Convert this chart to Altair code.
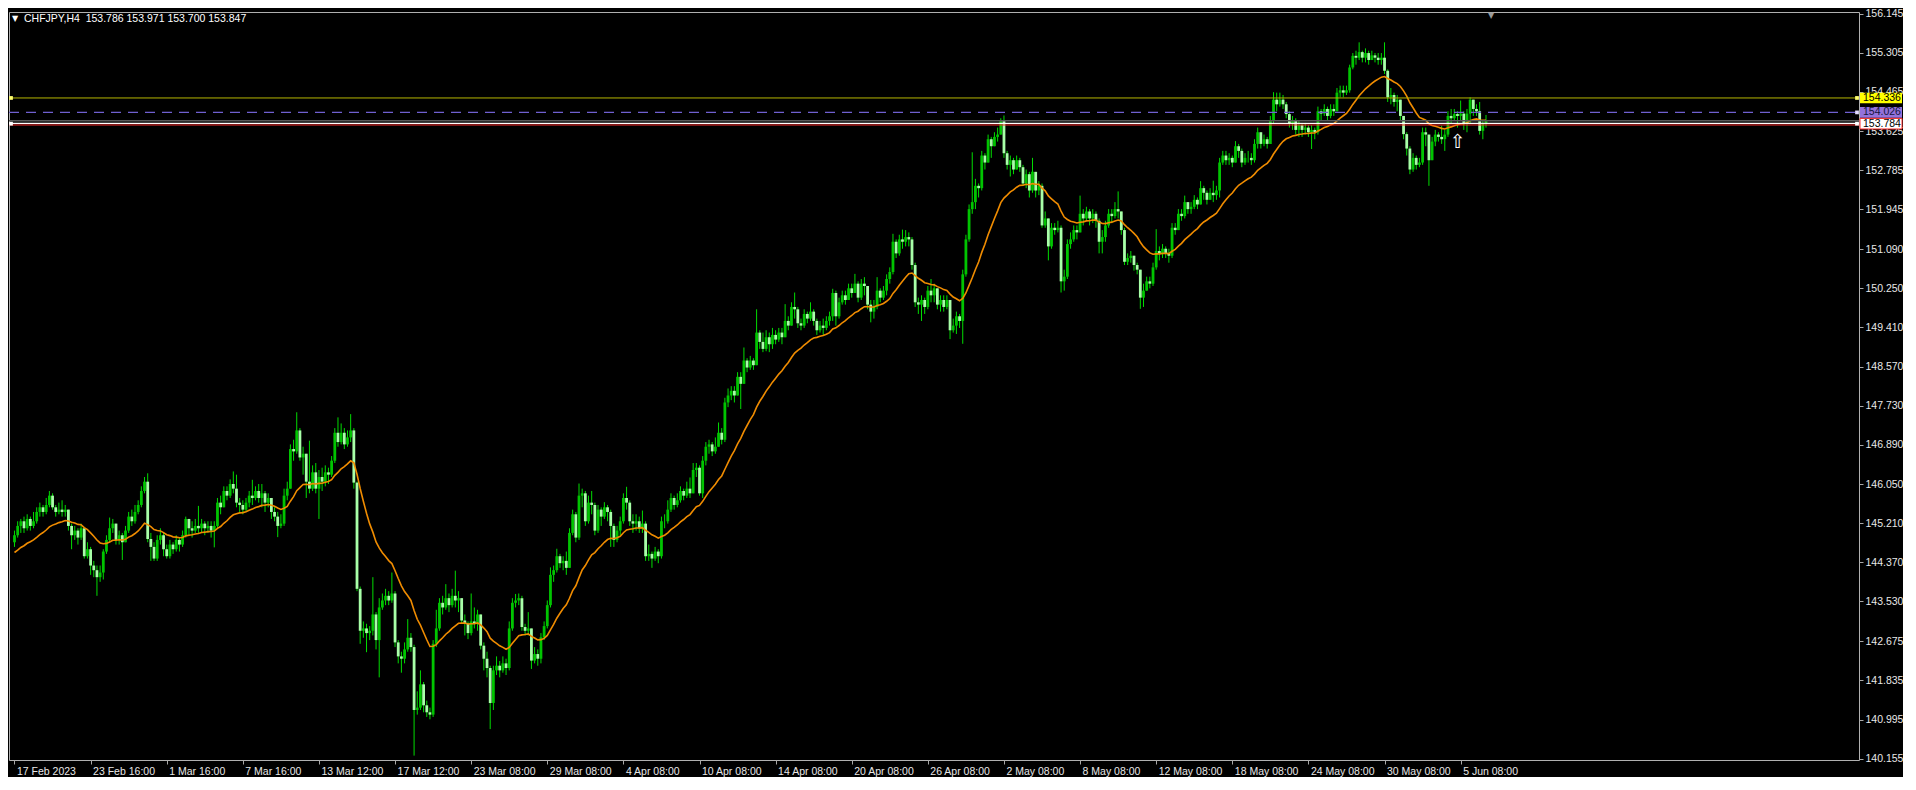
import altair as alt
import pandas as pd

# ---------------- data (CHFJPY H4) ----------------
closes = [
    144.95,145.15,145.25,145.10,145.30,145.15,145.25,145.45,145.55,145.45,
    145.60,145.80,145.55,145.45,145.50,145.45,145.50,145.15,144.95,145.05,
    144.90,145.10,144.50,144.65,144.30,144.20,144.05,144.15,144.60,144.85,
    145.10,145.20,144.85,144.95,144.80,145.05,145.35,145.25,145.45,145.60,
    145.90,146.10,144.87,144.70,144.45,144.85,144.95,144.65,144.50,144.75,
    144.65,144.85,144.75,144.95,145.30,145.10,145.05,145.15,145.10,145.20,
    145.10,145.15,145.05,145.15,145.65,145.55,145.90,145.80,146.05,145.95,
    145.65,145.60,145.50,145.65,145.80,145.75,145.90,145.75,145.85,145.65,
    145.75,145.45,145.35,145.15,145.20,145.80,145.95,146.80,146.75,147.20,
    146.62,146.70,146.10,145.95,146.30,145.95,146.20,146.10,146.30,146.25,
    146.55,147.15,146.95,147.15,146.90,147.05,147.20,146.08,143.80,142.90,
    142.95,142.85,142.90,143.25,142.70,143.40,143.55,143.65,143.55,143.70,
    142.65,142.35,142.30,142.50,142.75,142.55,141.20,141.25,141.75,141.30,
    141.15,141.10,142.62,142.95,143.50,143.40,143.60,143.45,143.65,143.55,
    143.60,143.12,143.05,142.85,143.10,143.05,143.25,142.58,142.30,142.10,
    141.35,142.05,142.15,142.05,142.20,142.10,142.95,143.50,143.55,143.60,
    142.98,142.90,142.95,142.26,142.40,142.30,142.76,143.00,143.45,144.10,
    144.20,144.50,144.35,144.40,144.25,145.00,145.40,144.90,145.80,145.85,
    145.25,145.65,145.60,145.05,145.50,145.35,145.55,145.45,145.15,144.85,
    145.05,145.25,145.75,145.65,145.25,145.20,145.25,145.10,145.20,144.50,
    144.55,144.45,144.60,144.50,145.25,145.25,145.50,145.75,145.60,145.70,
    145.90,145.80,145.95,145.85,146.35,146.40,145.85,146.55,146.85,146.90,
    146.75,146.85,147.15,147.00,147.80,147.95,148.05,147.95,148.35,148.20,
    148.70,148.55,148.70,148.60,149.30,149.10,148.95,149.20,149.05,149.25,
    149.15,149.30,149.20,149.55,149.45,149.85,149.80,149.50,149.45,149.70,
    149.60,149.75,149.55,149.35,149.45,149.40,149.55,149.65,150.15,149.65,
    149.95,150.10,150.00,150.25,150.15,150.35,150.05,150.35,150.30,149.90,
    149.75,149.85,150.20,150.05,150.20,150.45,150.60,151.25,151.00,151.30,
    151.25,151.35,151.30,150.75,149.95,149.90,150.00,149.85,150.20,150.10,
    150.25,149.90,150.00,149.85,150.00,149.35,149.45,149.65,149.55,150.55,
    151.30,151.95,152.10,152.45,152.40,153.10,152.95,153.45,153.30,153.50,
    153.55,153.85,153.15,152.90,153.00,152.80,153.00,152.85,152.50,152.70,
    152.35,152.75,152.35,152.45,151.60,151.75,151.15,151.55,151.50,151.55,
    150.40,150.50,151.20,151.30,151.50,151.45,151.85,151.75,151.90,151.75,
    151.85,151.70,151.25,151.35,151.60,151.85,151.80,151.95,151.90,151.50,
    150.82,150.90,150.95,150.75,150.65,150.05,150.20,150.40,150.35,150.70,
    151.05,151.00,151.10,151.00,150.95,151.55,151.50,151.85,151.80,152.10,
    151.95,152.00,152.15,152.05,152.40,152.30,152.15,152.30,152.25,152.35,
    152.95,153.10,153.00,153.05,152.95,153.30,153.20,152.95,153.05,153.05,
    153.00,153.35,153.60,153.35,153.45,153.35,153.85,154.30,154.20,154.30,
    154.20,153.99,153.78,153.85,153.65,153.75,153.65,153.70,153.60,153.65,
    153.60,154.05,154.00,154.10,153.95,154.10,154.05,154.45,154.50,154.45,
    154.50,154.99,155.24,155.20,155.32,155.20,155.30,155.15,155.25,155.20,
    155.15,155.20,154.92,154.35,154.40,154.25,154.30,153.95,153.56,153.25,
    152.80,153.05,152.90,152.95,153.60,153.55,153.00,153.40,153.55,153.50,
    153.45,153.55,153.95,153.90,153.99,153.95,154.00,153.80,154.00,154.30,
    154.10,154.05,153.63,153.786,153.847,
]
highs = [
    145.05,145.25,145.30,145.35,145.40,145.35,145.45,145.55,145.65,145.60,
    145.75,145.90,145.85,145.60,145.65,145.70,145.60,145.50,145.20,145.15,
    145.10,145.20,145.10,144.80,144.70,144.40,144.30,144.30,144.65,144.95,
    145.33,145.30,145.20,145.05,145.00,145.15,145.45,145.50,145.60,145.70,
    146.00,146.20,146.28,145.00,144.80,144.95,145.10,145.00,144.75,144.85,
    144.80,144.95,144.90,145.05,145.35,145.30,145.25,145.30,145.58,145.30,
    145.25,145.25,145.25,145.25,145.75,145.80,146.00,146.00,146.15,146.32,
    146.25,145.75,145.70,145.75,145.90,146.14,146.00,146.05,146.05,145.90,
    145.85,145.75,145.55,145.45,145.40,145.95,146.10,146.90,147.00,147.59,
    147.25,146.85,146.70,146.98,146.45,146.50,146.35,146.40,146.45,146.40,
    146.65,147.25,147.48,147.35,147.25,147.20,147.55,147.25,146.10,143.85,
    143.10,143.05,143.00,144.05,143.30,143.60,143.70,143.80,143.75,144.15,
    143.75,142.70,142.45,142.65,143.15,142.85,142.60,141.60,142.05,141.80,
    141.40,141.25,142.70,143.35,143.60,143.65,143.90,143.70,143.80,144.19,
    143.75,143.55,143.25,143.10,143.70,143.40,143.35,143.25,142.65,142.45,
    142.15,142.15,142.35,142.25,142.35,142.30,143.10,143.60,143.69,143.70,
    143.65,143.05,143.30,142.90,142.55,142.50,142.85,143.10,143.55,144.26,
    144.30,144.66,144.55,144.50,144.60,145.10,145.50,145.45,146.06,145.95,
    145.90,145.80,145.90,145.65,145.60,145.55,145.66,145.60,145.50,145.20,
    145.15,145.35,145.85,145.99,145.70,145.40,145.40,145.35,145.48,145.25,
    144.75,144.60,144.70,144.65,145.35,145.40,145.70,145.85,145.80,145.85,
    146.00,145.95,146.10,146.19,146.50,146.50,146.45,146.65,146.95,147.00,
    146.95,147.05,147.37,147.25,147.90,148.10,148.15,148.15,148.45,148.45,
    148.98,148.75,148.80,148.75,149.80,149.35,149.30,149.35,149.30,149.40,
    149.35,149.40,149.40,149.91,149.65,149.95,150.16,149.85,149.60,149.80,
    149.75,149.95,149.80,149.60,149.55,149.60,149.65,149.75,150.24,150.20,
    150.05,150.20,150.20,150.35,150.35,150.56,150.40,150.45,150.49,150.30,
    150.00,150.00,150.49,150.25,150.30,150.55,150.70,151.42,151.30,151.40,
    151.51,151.50,151.45,151.35,150.80,150.05,150.10,150.05,150.30,150.45,
    150.35,150.25,150.10,150.10,150.10,150.00,149.60,149.75,149.70,150.65,
    151.40,152.05,153.17,152.60,152.50,153.20,153.15,153.55,153.50,153.60,
    153.70,153.90,153.96,153.20,153.10,153.05,153.10,153.05,152.90,152.80,
    152.75,153.05,152.75,152.55,152.50,151.90,151.75,151.65,151.65,151.70,
    151.60,150.65,151.30,151.45,151.60,151.60,152.24,151.95,152.00,151.95,
    151.95,151.90,151.75,151.50,151.70,151.95,151.95,152.10,152.33,151.90,
    151.55,151.00,151.05,150.95,150.80,150.65,150.35,150.50,150.50,150.80,
    151.52,151.15,151.20,151.15,151.10,151.65,151.65,151.95,151.95,152.24,
    152.10,152.10,152.25,152.20,152.55,152.45,152.35,152.40,152.56,152.45,
    153.05,153.20,153.20,153.15,153.10,153.41,153.35,153.25,153.15,153.20,
    153.15,153.45,153.70,153.60,153.55,153.50,153.95,154.46,154.45,154.45,
    154.40,154.25,154.05,153.95,153.90,153.85,153.80,153.80,153.75,153.75,
    153.70,154.15,154.10,154.20,154.15,154.20,154.20,154.55,154.60,154.60,
    154.60,155.05,155.30,155.35,155.53,155.35,155.40,155.35,155.35,155.30,
    155.30,155.30,155.53,154.95,154.55,154.45,154.40,154.30,153.95,153.60,
    153.30,153.15,153.10,153.05,153.70,153.70,153.55,153.50,153.65,153.60,
    153.74,153.65,154.05,154.10,154.10,154.05,154.28,154.05,154.10,154.35,
    154.30,154.20,154.25,153.85,153.971,
]
lows = [
    144.70,144.90,145.00,145.00,145.05,145.05,145.10,145.20,145.35,145.35,
    145.40,145.55,145.50,145.35,145.40,145.35,145.35,145.05,144.65,144.85,
    144.75,144.85,144.45,144.45,144.10,144.05,143.65,143.95,144.00,144.55,
    144.80,145.00,144.75,144.75,144.42,144.80,145.00,145.15,145.20,145.40,
    145.55,145.85,144.80,144.40,144.40,144.40,144.75,144.50,144.45,144.45,
    144.55,144.60,144.60,144.70,144.90,144.95,144.90,145.00,145.00,145.00,
    144.95,145.00,144.90,144.69,145.10,145.40,145.55,145.70,145.75,145.85,
    145.55,145.45,145.40,145.45,145.55,145.60,145.70,145.65,145.55,145.45,
    145.55,145.30,145.25,144.91,145.10,145.15,145.70,145.95,146.55,146.70,
    146.55,146.25,145.75,145.85,145.90,145.85,145.30,145.90,146.00,146.05,
    146.20,146.50,146.85,146.90,146.80,146.85,146.95,145.95,143.75,142.62,
    142.75,142.44,142.70,142.80,142.50,141.90,143.35,143.45,143.45,143.50,
    142.55,142.20,142.00,142.20,142.45,142.45,140.22,141.10,141.20,141.15,
    141.05,141.00,141.05,142.55,142.90,143.25,143.35,143.30,143.40,143.40,
    143.30,143.05,142.80,142.72,142.80,142.95,142.90,142.50,142.05,141.90,
    140.79,141.20,141.95,141.90,142.00,141.95,142.05,142.90,143.40,143.45,
    142.90,142.80,142.80,142.08,142.20,142.15,142.20,142.70,142.95,143.40,
    143.95,144.15,144.25,144.20,144.10,144.25,144.95,144.80,144.85,145.55,
    145.15,145.20,145.40,144.95,145.00,145.15,145.30,145.25,144.70,144.70,
    144.80,144.95,145.20,145.50,145.15,145.00,145.05,145.00,145.00,144.40,
    144.40,144.25,144.40,144.35,144.45,145.10,145.20,145.45,145.50,145.55,
    145.65,145.70,145.75,145.75,145.85,146.20,145.80,145.75,146.45,146.70,
    146.65,146.70,146.85,146.90,146.95,147.70,147.85,147.80,148.00,147.66,
    148.20,148.45,148.50,148.50,148.60,148.95,148.88,148.90,148.88,148.95,
    149.05,149.10,149.05,149.20,149.35,149.45,149.60,149.40,149.35,149.40,
    149.50,149.55,149.45,149.25,149.30,149.25,149.35,149.45,149.55,149.45,
    149.60,149.90,149.90,150.00,150.05,150.15,149.95,150.00,150.10,149.80,
    149.52,149.60,149.80,149.95,150.00,150.10,150.35,150.55,150.90,150.95,
    151.10,151.15,151.15,150.65,149.85,149.70,149.55,149.70,149.80,149.95,
    149.95,149.80,149.75,149.75,149.80,149.16,149.30,149.27,149.40,149.06,
    150.50,151.25,151.85,151.95,152.20,152.35,152.80,152.95,153.05,153.35,
    153.40,153.55,153.05,152.80,152.65,152.70,152.80,152.75,152.45,152.40,
    152.20,152.30,152.20,152.25,151.55,151.55,150.85,151.10,151.40,151.45,
    150.16,150.20,150.45,151.10,151.25,151.30,151.45,151.60,151.70,151.60,
    151.65,151.55,151.00,151.00,151.25,151.55,151.65,151.75,151.75,151.40,
    150.75,150.75,150.80,150.63,150.55,149.81,149.85,150.20,150.25,150.30,
    150.65,150.85,150.90,150.90,150.80,150.90,151.40,151.55,151.70,151.75,
    151.85,151.85,151.95,151.95,152.05,152.15,152.05,152.15,152.10,152.15,
    152.20,152.90,152.90,152.90,152.85,152.95,153.05,152.85,152.90,152.95,
    152.90,152.95,153.25,153.25,153.30,153.25,153.35,153.80,154.05,154.15,
    154.10,153.90,153.70,153.65,153.55,153.50,153.50,153.55,153.50,153.24,
    153.45,153.55,153.85,153.95,153.85,153.90,153.95,154.05,154.35,154.35,
    154.40,154.45,154.95,155.05,155.15,155.10,155.10,155.05,155.15,155.10,
    155.05,155.05,154.85,154.25,154.20,154.15,154.05,153.85,153.45,153.10,
    152.70,152.75,152.80,152.85,152.90,153.30,152.45,153.00,153.30,153.40,
    153.35,153.20,153.50,153.80,153.85,153.70,153.85,153.65,153.60,153.80,
    153.95,153.95,153.55,153.45,153.700,
]
first_open = 144.80
ma_seed = 144.58        # moving-average value at the first bar
ma_period = 21

x_label_bars = list(range(0, 457, 24))
x_label_texts = ["17 Feb 2023", "23 Feb 16:00", "1 Mar 16:00", "7 Mar 16:00",
                 "13 Mar 12:00", "17 Mar 12:00", "23 Mar 08:00", "29 Mar 08:00",
                 "4 Apr 08:00", "10 Apr 08:00", "14 Apr 08:00", "20 Apr 08:00",
                 "26 Apr 08:00", "2 May 08:00", "8 May 08:00", "12 May 08:00",
                 "18 May 08:00", "24 May 08:00", "30 May 08:00", "5 Jun 08:00"]
y_ticks = [156.145, 155.305, 154.465, 153.625, 152.785, 151.945, 151.090, 150.250,
           149.410, 148.570, 147.730, 146.890, 146.050, 145.210, 144.370, 143.530,
           142.675, 141.835, 140.995, 140.155]

level_yellow = 154.336
level_dashed = 154.026
level_white = 153.784
arrow_bar = 455
arrow_price = 153.39
symbol = "CHFJPY,H4"

# ---------------- table ----------------
n = len(closes)
opens = [first_open] + closes[:-1]
df = pd.DataFrame({"i": list(range(n)), "open": opens, "close": closes,
                   "high": highs, "low": lows})
df["high"] = df[["high", "open", "close"]].max(axis=1)
df["low"] = df[["low", "open", "close"]].min(axis=1)
alpha = 2.0 / (ma_period + 1)
ema = [ma_seed]
for c in closes[1:]:
    ema.append(ema[-1] + alpha * (c - ema[-1]))
df["ma"] = ema

header = "%s\u00a0\u00a0%.3f %.3f %.3f %.3f" % (symbol, opens[-1], highs[-1], lows[-1], closes[-1])

# ---------------- layout ----------------
W, H = 1850, 748
bar_px = 3.1886
unit_px = 46.59
y_top = 156.181
x_dom = [-0.5 / bar_px, (W - 0.5) / bar_px]
y_dom = [y_top - H / unit_px, y_top]
FONT = "Liberation Sans"
box_half = 5.3 / unit_px

arr = "[" + ",".join("'%s'" % t for t in x_label_texts) + "]"
vals = "[" + ",".join(str(v) for v in x_label_bars) + "]"
xaxis = alt.Axis(values=x_label_bars, labelExpr=arr + "[indexof(" + vals + ", datum.value)]",
                 grid=False, domain=False, tickColor="#a8a8a8", tickSize=4,
                 labelColor="#e8e8e8", labelFont=FONT, labelFontSize=10.5,
                 labelAlign="left", labelOffset=2, labelPadding=2,
                 labelOverlap=False, labelFlush=False, title=None)
yaxis = alt.Axis(orient="right", values=y_ticks, format=".3f", grid=False, domain=False,
                 tickColor="#a8a8a8", tickSize=4, labelColor="#e8e8e8", labelFont=FONT,
                 labelFontSize=10.5, labelPadding=2, labelOverlap=False, title=None)
xs = alt.Scale(domain=x_dom, nice=False, zero=False)
ys = alt.Scale(domain=y_dom, nice=False, zero=False)


def X(f):
    return alt.X(f, type="quantitative", scale=xs, axis=xaxis, title=None)


def Y(f):
    return alt.Y(f, type="quantitative", scale=ys, axis=yaxis, title=None)


base = alt.Chart(df)
wicks = base.mark_rule(color="#00dc00", strokeWidth=1).encode(x=X("i"), y=Y("low"), y2=alt.Y2("high"))
bodies = base.mark_bar(size=2.8).encode(
    x=X("i"), y=Y("open"), y2=alt.Y2("close"),
    color=alt.condition("datum.close >= datum.open", alt.value("#00c400"), alt.value("#a8ffa8")))
ma_line = base.mark_line(color="#f08c00", strokeWidth=1.6).encode(x=X("i"), y=Y("ma"))


def hline(p, color, width=1.0, dash=None):
    kw = dict(color=color, strokeWidth=width)
    if dash:
        kw["strokeDash"] = dash
    return alt.Chart(pd.DataFrame({"p": [p]})).mark_rule(**kw).encode(
        y=Y("p"), x=alt.value(0), x2=alt.value(W))


lines = [
    hline(level_yellow, "#b4b400"),
    hline(level_dashed, "#7060d0", 1.2, [10, 7]),
    hline(closes[-1], "#5a5a5a", 1.6),
    hline(level_white + 0.006, "#ffffff", 1.2),
    hline(level_white - 0.028, "#ff3030", 1.0),
]


def box(p, fill, tcolor, stroke=None):
    d = pd.DataFrame({"top": [p + box_half], "bot": [p - box_half], "p": [p], "t": ["%.3f" % p]})
    rk = dict(color=fill)
    if stroke:
        rk["stroke"] = stroke
        rk["strokeWidth"] = 1
    r = alt.Chart(d).mark_rect(**rk).encode(
        x=alt.value(W + 1), x2=alt.value(W + 43), y=Y("top"), y2=alt.Y2("bot"))
    t = alt.Chart(d).mark_text(align="left", baseline="middle", font=FONT, fontSize=10.5,
                               color=tcolor).encode(x=alt.value(W + 4), y=Y("p"), text="t:N")
    return [r, t]


boxes = (box(level_yellow, "#ffff00", "#000000") + box(level_dashed, "#9372dc", "#14143c")
         + box(level_white, "#ffffff", "#000000", "#ff3030"))


def square(p, xpix, color):
    return alt.Chart(pd.DataFrame({"p": [p]})).mark_square(size=14, color=color, opacity=1).encode(
        x=alt.value(xpix), y=Y("p"))


squares = [square(level_yellow, 2, "#ffff70"), square(level_white, 2, "#ffffff"),
           square(level_yellow, W - 2, "#ffff70"), square(level_dashed, W - 2, "#e4dcff"),
           square(level_white, W - 2, "#ffffff")]

arrow = alt.Chart(pd.DataFrame({"i": [arrow_bar], "p": [arrow_price], "t": ["\u21e7"]})).mark_text(
    font="DejaVu Sans", fontSize=19, color="#ffffff", baseline="middle").encode(
    x=X("i"), y=Y("p"), text="t:N")

hdr = alt.Chart(pd.DataFrame({"t": [header]})).mark_text(
    align="left", baseline="top", font=FONT, fontSize=10.5, color="#ffffff").encode(
    x=alt.value(15), y=alt.value(2), text="t:N")
hdr_tri = alt.Chart(pd.DataFrame({"t": ["\u25bc"]})).mark_text(
    align="left", baseline="top", font="DejaVu Sans", fontSize=8, color="#ffffff").encode(
    x=alt.value(3), y=alt.value(3), text="t:N")
shift_tri = alt.Chart(pd.DataFrame({"t": ["\u25bc"]})).mark_text(
    align="center", baseline="top", font="DejaVu Sans", fontSize=8, color="#9a9a9a").encode(
    x=alt.value(1482), y=alt.value(0), text="t:N")

chart = alt.layer(wicks, bodies, ma_line, *lines, *squares, *boxes, arrow, hdr, hdr_tri, shift_tri).properties(
    width=W, height=H, padding=0
).configure(background="#000000").configure_view(stroke="#b0b0b0", strokeWidth=1)

chart.save("out.html", embed_options={"renderer": "svg", "actions": False})
